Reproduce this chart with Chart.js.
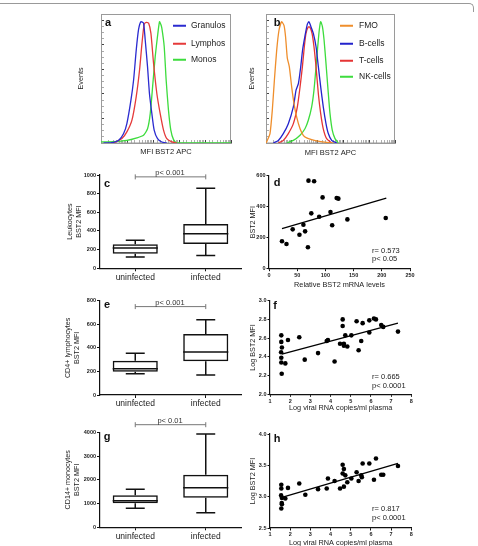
<!DOCTYPE html>
<html>
<head>
<meta charset="utf-8">
<script src="https://cdn.jsdelivr.net/npm/chart.js@4.4.0/dist/chart.umd.min.js"></script>
<style>
  html, body { margin: 0; padding: 0; background: #fff; overflow: hidden; }
  body { width: 478px; height: 546px; position: relative; font-family: "Liberation Sans", Arial, sans-serif; color: #222; }
  canvas { position: absolute; }
  .t { position: absolute; white-space: nowrap; line-height: 1; }
  .lab { font-weight: bold; font-size: 11px; transform: translate(-50%, -50%); color: #111; }
  .note { font-size: 7.5px; transform: translateY(-50%); }
  .pv { font-size: 7.5px; transform: translate(-50%, -50%); color: #333; }
  .leg { font-size: 8.5px; transform: translateY(-50%); }
  .leg i { display: inline-block; width: 13px; height: 2px; margin-right: 5px; vertical-align: middle; }
  #edge { position: absolute; left: -6px; top: 3px; width: 479px; height: 8px; border-top: 1px solid #999; border-right: 1px solid #999; border-top-right-radius: 5px; }
</style>
</head>
<body>
<div id="edge"></div>

<canvas id="histA"></canvas>
<canvas id="histB"></canvas>
<canvas id="boxC"></canvas>
<canvas id="scatD"></canvas>
<canvas id="boxE"></canvas>
<canvas id="scatF"></canvas>
<canvas id="boxG"></canvas>
<canvas id="scatH"></canvas>

<div class="t lab" style="left:108px;top:22px">a</div>
<div class="t lab" style="left:277px;top:22px">b</div>
<div class="t lab" style="left:107px;top:183px">c</div>
<div class="t lab" style="left:277px;top:182px">d</div>
<div class="t lab" style="left:107px;top:304px">e</div>
<div class="t lab" style="left:275px;top:305px">f</div>
<div class="t lab" style="left:107px;top:436px">g</div>
<div class="t lab" style="left:277px;top:438px">h</div>

<div class="t leg" style="left:173px;top:25px"><i style="background:#2b2bd0"></i>Granulos</div>
<div class="t leg" style="left:173px;top:43px"><i style="background:#e53a3a"></i>Lymphos</div>
<div class="t leg" style="left:173px;top:59px"><i style="background:#3ddc3d"></i>Monos</div>

<div class="t leg" style="left:340px;top:25px"><i style="background:#ef8e2c;margin-right:6px"></i>FMO</div>
<div class="t leg" style="left:340px;top:43px"><i style="background:#2323cc;margin-right:6px"></i>B-cells</div>
<div class="t leg" style="left:340px;top:60px"><i style="background:#e53434;margin-right:6px"></i>T-cells</div>
<div class="t leg" style="left:340px;top:76px"><i style="background:#3ddc3d;margin-right:6px"></i>NK-cells</div>

<div class="t pv" style="left:170px;top:173px">p&lt; 0.001</div>
<div class="t pv" style="left:170px;top:303px">p&lt; 0.001</div>
<div class="t pv" style="left:170px;top:421px">p&lt; 0.01</div>

<div class="t note" style="left:372px;top:251px">r= 0.573</div>
<div class="t note" style="left:372px;top:259px">p&lt; 0.05</div>
<div class="t note" style="left:372px;top:377px">r= 0.665</div>
<div class="t note" style="left:372px;top:386px">p&lt; 0.0001</div>
<div class="t note" style="left:372px;top:509px">r= 0.817</div>
<div class="t note" style="left:372px;top:518px">p&lt; 0.0001</div>

<script>
// --- histograms (a, b): x = position across the MFI axis (0-100), y = % of max events
const granX = [2, 7.2, 13.6, 17.4, 19.9, 23, 25.1, 27.1, 28.9, 30.7, 32.7, 34, 35.8, 37.3, 39.1, 40.9, 43.5, 46.8, 50.6];
const granY = [0, 0, 2.1, 7.3, 15, 33, 49, 72, 88, 94, 93, 80, 59, 38, 23, 10, 3.4, 0.8, 0];
const lymX = [9.7, 16.1, 19.9, 23.8, 27.1, 29.7, 31.5, 33.2, 34.8, 36.6, 38.4, 40.4, 43, 45.5, 48.1, 50.6, 54.5, 58.3];
const lymY = [0, 3.4, 8.6, 17.7, 36, 57, 77, 92, 93.5, 93, 85, 62, 38, 23, 10, 3.4, 0.8, 0];
const monoX = [0, 9.7, 19.9, 27.6, 32.7, 35.8, 37.9, 39.9, 41.7, 43.5, 45, 46, 46.8, 48.6, 50.1, 51.9, 53.7, 55.8, 58.3, 100];
const monoY = [0.8, 1, 2, 4, 6, 11, 23, 46, 67, 83, 94, 92, 89, 75, 49, 25.5, 10, 2.6, 0, 0];

const fmoX = [0, 1, 3.1, 4.9, 6.5, 8.3, 10.1, 12.1, 14, 15.2, 16.5, 18.1, 19.9, 21.7, 23.8, 26.4, 28.9, 31.5, 35.4, 39.3, 47, 52.2];
const fmoY = [0, 2, 7.3, 25.6, 48.7, 72, 87.6, 94, 91, 82, 66, 59, 43.5, 30.6, 20, 11, 6, 4, 2.6, 1.6, 0.5, 0];
const bcellX = [5.7, 9.6, 13.4, 17.3, 21.2, 23.3, 25.1, 26.9, 28.4, 30.2, 32, 33.3, 34.9, 36.7, 38.8, 40.6, 42.4, 44.4, 46.5, 48.3, 50.9, 54.8];
const bcellY = [0, 2, 7.3, 15, 28, 41, 46, 59, 72.5, 82.9, 92, 94, 90, 85, 74.6, 59, 43.5, 28, 15, 7.3, 2, 0];
const tcellX = [9.6, 13.4, 17.3, 21.2, 24.3, 26.4, 28.2, 29.7, 31, 32.8, 34.1, 35.7, 37.2, 38.8, 40.6, 42.4, 44.4, 47, 50.9];
const tcellY = [0, 2, 7.3, 15, 28, 43.5, 59, 74.6, 85, 90, 89.6, 85, 74.6, 59, 38, 22.8, 11, 3.4, 0];
const nkX = [16, 21.2, 26.4, 30.2, 32.8, 35.4, 37.2, 38.8, 40.1, 41.3, 42.4, 43.7, 45, 46.5, 48.1, 49.6, 51.4, 53.5, 56];
const nkY = [0, 2, 6, 11, 17.6, 28, 41, 59, 74.6, 87.6, 94, 90.4, 80, 61.7, 41, 23, 9.8, 3.4, 0];

// --- box plots (c, e, g): [min, q1, median, q3, max]
const groups = ['uninfected', 'infected'];
const leukoStats = [[121, 156, 218, 257, 301], [136, 261, 369, 476, 857]];
const cd4Stats = [[181, 198, 223, 291, 354], [170, 286, 365, 517, 639]];
const cd14Stats = [[800, 1011, 1120, 1347, 1600], [615, 1246, 1667, 2215, 3928]];

// --- correlations (d, f, h)
const mrnaLevel = [23, 31, 42, 54, 61, 64, 69, 70, 75, 80, 89, 95, 109, 112, 120, 123, 139, 207];
const leukoMfi = [177, 159, 254, 219, 284, 241, 138, 568, 357, 564, 335, 460, 366, 280, 456, 452, 318, 327];
const mrnaFitX = [23, 208];
const mrnaFitY = [258, 456];

const viralF = [1.56, 1.56, 1.59, 1.55, 1.56, 1.56, 1.58, 1.76, 1.89, 2.45, 2.72, 3.38, 3.81, 3.87, 4.2, 4.47, 4.6, 4.6, 4.66, 4.66, 4.73, 4.83, 5.03, 5.29, 5.39, 5.52, 5.59, 5.92, 5.92, 6.15, 6.25, 6.51, 6.61, 7.34];
const cd4LogMfi = [2.63, 2.56, 2.5, 2.45, 2.39, 2.34, 2.22, 2.33, 2.58, 2.61, 2.37, 2.44, 2.57, 2.58, 2.35, 2.54, 2.8, 2.73, 2.54, 2.52, 2.63, 2.51, 2.63, 2.78, 2.47, 2.57, 2.76, 2.79, 2.66, 2.81, 2.8, 2.74, 2.72, 2.67];
const cd4FitX = [1.59, 7.34];
const cd4FitY = [2.43, 2.76];

const viralH = [1.56, 1.56, 1.55, 1.59, 1.58, 1.59, 1.56, 1.76, 1.89, 2.45, 2.75, 3.38, 3.81, 3.87, 4.2, 4.47, 4.6, 4.6, 4.66, 4.66, 4.73, 4.83, 5.03, 5.29, 5.39, 5.52, 5.55, 5.59, 5.92, 6.15, 6.25, 6.51, 6.61, 7.34];
const cd14LogMfi = [3.19, 3.13, 3.02, 2.98, 2.9, 2.88, 2.81, 2.97, 3.14, 3.21, 3.03, 3.12, 3.13, 3.29, 3.25, 3.13, 3.51, 3.37, 3.44, 3.16, 3.34, 3.23, 3.29, 3.39, 3.25, 3.34, 3.31, 3.53, 3.53, 3.27, 3.61, 3.35, 3.35, 3.49];
const cd14FitX = [1.59, 7.34];
const cd14FitY = [2.99, 3.53];

Chart.defaults.font.family = '"Liberation Sans", Arial, sans-serif';
Chart.defaults.color = '#222';
Chart.defaults.animation = false;
Chart.defaults.plugins.legend.display = false;
Chart.defaults.plugins.tooltip.enabled = false;

const tickFont = { size: 5.5, weight: 'bold' };

// place a canvas so its plot area lands on [left, top, right, bottom]
function layout(id, area, lw, pr, bottom) {
  const cv = document.getElementById(id);
  const left = area[0] - lw;
  const top = Math.floor(area[1]) - 10;
  const width = Math.round(area[2] + pr - left);
  const height = Math.round(bottom - top);
  cv.width = width;
  cv.height = height;
  cv.style.left = left + 'px';
  cv.style.top = top + 'px';
  return {
    cv, left, lw, bottom: top + height, xh: top + height - area[3],
    padding: { top: area[1] - top, right: width - (area[2] - left), left: 0, bottom: 0 }
  };
}

function yTitle(L, text, size, cx) {
  return { display: true, text, font: { size }, color: '#222', padding: { top: cx - L.left - size * 0.6, bottom: 0 } };
}
function xTitle(L, text, size, cy) {
  return { display: true, text, font: { size }, color: '#222', padding: { top: 0, bottom: L.bottom - cy - size * 0.6 } };
}

const frame = {
  id: 'frame',
  beforeDatasetsDraw(chart) {
    const a = chart.chartArea, ctx = chart.ctx;
    ctx.save();
    ctx.strokeStyle = '#9a9a9a';
    ctx.lineWidth = 1;
    ctx.strokeRect(a.left + 0.5, a.top + 0.5, a.right - a.left - 1, a.bottom - a.top - 0.5);
    ctx.restore();
  }
};

function seg(ctx, x1, y1, x2, y2) {
  ctx.moveTo(x1, y1);
  ctx.lineTo(x2, y2);
}

function whiskers(stats, bracketAt) {
  return {
    id: 'whiskers',
    afterDatasetsDraw(chart) {
      const ctx = chart.ctx, y = chart.scales.y, x = chart.scales.x;
      const bars = chart.getDatasetMeta(0).data;
      ctx.save();
      ctx.strokeStyle = '#111';
      ctx.lineWidth = 1.5;
      ctx.beginPath();
      bars.forEach((b, i) => {
        const [lo, q1, med, q3, hi] = stats[i];
        const w = b.width / 2, cap = b.width * 0.21;
        seg(ctx, b.x - w, y.getPixelForValue(med), b.x + w, y.getPixelForValue(med));
        seg(ctx, b.x, y.getPixelForValue(q3), b.x, y.getPixelForValue(hi));
        seg(ctx, b.x, y.getPixelForValue(q1), b.x, y.getPixelForValue(lo));
        seg(ctx, b.x - cap, y.getPixelForValue(hi), b.x + cap, y.getPixelForValue(hi));
        seg(ctx, b.x - cap, y.getPixelForValue(lo), b.x + cap, y.getPixelForValue(lo));
      });
      ctx.stroke();
      // significance bracket
      const by = y.getPixelForValue(bracketAt);
      const x0 = x.getPixelForValue(0), x1 = x.getPixelForValue(1);
      ctx.strokeStyle = '#777';
      ctx.lineWidth = 1;
      ctx.beginPath();
      seg(ctx, x0, by, x1, by);
      seg(ctx, x0, by - 2.5, x0, by + 2.5);
      seg(ctx, x1, by - 2.5, x1, by + 2.5);
      ctx.stroke();
      ctx.restore();
    }
  };
}

function histChart(L, sets, yTitleX, xTitleY) {
  return new Chart(L.cv, {
    type: 'line',
    data: {
      datasets: sets.map(s => ({
        data: s.xs.map((v, i) => ({ x: v, y: s.ys[i] })),
        borderColor: s.color,
        borderWidth: 1.3,
        pointRadius: 0,
        tension: 0.2,
        fill: false
      }))
    },
    options: {
      responsive: false,
      layout: { padding: L.padding },
      scales: {
        x: { type: 'linear', display: false, min: 0, max: 100 },
        y: { type: 'linear', display: false, min: 0, max: 100 },
        xt: {
          axis: 'x', type: 'logarithmic', position: 'bottom', min: 1, max: 100000,
          ticks: { display: false },
          grid: {
            drawOnChartArea: false, tickLength: -3,
            tickColor: c => (c.tick && c.tick.major ? '#444' : '#b0b0b0')
          },
          border: { color: '#9a9a9a' },
          title: xTitle(L, 'MFI BST2 APC', 7.5, xTitleY),
          afterFit: s => { s.height = L.xh; }
        },
        yt: {
          axis: 'y', type: 'linear', position: 'left', min: 0, max: 100,
          ticks: { display: false, stepSize: 4.75 },
          grid: {
            drawOnChartArea: false, tickLength: -3,
            tickColor: c => (c.index % 4 === 0 ? '#444' : '#aaa')
          },
          border: { color: '#9a9a9a' },
          title: yTitle(L, 'Events', 7.2, yTitleX),
          afterFit: s => { s.width = L.lw; }
        }
      }
    },
    plugins: [frame]
  });
}

function boxChart(L, stats, bracketAt, titleLines, titleX, yMax, yStep) {
  return new Chart(L.cv, {
    type: 'bar',
    data: {
      labels: groups,
      datasets: [{
        data: stats.map(s => [s[1], s[3]]),
        backgroundColor: 'rgba(255,255,255,0)',
        borderColor: '#111',
        borderWidth: 1.5,
        borderSkipped: false,
        barPercentage: 0.64,
        categoryPercentage: 1
      }]
    },
    options: {
      responsive: false,
      layout: { padding: L.padding },
      scales: {
        x: {
          offset: true,
          grid: { offset: false, drawOnChartArea: false, tickLength: 3, color: '#111' },
          border: { color: '#111', width: 1.2 },
          ticks: { font: { size: 8.5 }, padding: 1, color: '#222' },
          afterFit: s => { s.height = L.xh; }
        },
        y: {
          min: 0, max: yMax,
          ticks: { stepSize: yStep, font: tickFont, padding: 1, color: '#222', callback: v => String(v) },
          grid: { drawOnChartArea: false, tickLength: 3, color: '#111' },
          border: { color: '#111', width: 1.2 },
          title: yTitle(L, titleLines, 7.2, titleX),
          afterFit: s => { s.width = L.lw; }
        }
      }
    },
    plugins: [whiskers(stats, bracketAt)]
  });
}

function scatterChart(L, xs, ys, fitX, fitY, xOpt, yOpt) {
  return new Chart(L.cv, {
    type: 'scatter',
    data: {
      datasets: [
        {
          data: xs.map((v, i) => ({ x: v, y: ys[i] })),
          pointRadius: 2.3, backgroundColor: '#000', borderWidth: 0
        },
        {
          data: fitX.map((v, i) => ({ x: v, y: fitY[i] })),
          showLine: true, pointRadius: 0, borderColor: '#000', borderWidth: 1.3
        }
      ]
    },
    options: {
      responsive: false,
      layout: { padding: L.padding },
      scales: {
        x: {
          type: 'linear', min: xOpt.min, max: xOpt.max,
          ticks: { stepSize: xOpt.step, font: tickFont, padding: 1, color: '#222' },
          grid: { drawOnChartArea: false, tickLength: 2.5, color: '#111' },
          border: { color: '#111', width: 1.2 },
          title: xTitle(L, xOpt.title, 7.3, xOpt.titleY),
          afterFit: s => { s.height = L.xh; }
        },
        y: {
          type: 'linear', min: yOpt.min, max: yOpt.max,
          ticks: { stepSize: yOpt.step, font: tickFont, padding: 1, color: '#222',
            callback: v => v.toFixed(yOpt.digits) },
          grid: { drawOnChartArea: false, tickLength: 2.5, color: '#111' },
          border: { color: '#111', width: 1.2 },
          title: yTitle(L, yOpt.title, 7.2, 253.5),
          afterFit: s => { s.width = L.lw; }
        }
      }
    }
  });
}

// a, b
histChart(layout('histA', [101, 14, 231, 143], 41, 9, 158), [
  { xs: granX, ys: granY, color: '#2b2bd0' },
  { xs: lymX, ys: lymY, color: '#e53a3a' },
  { xs: monoX, ys: monoY, color: '#3ddc3d' }
], 81, 152);

histChart(layout('histB', [266, 14, 395, 143], 36, 15, 158), [
  { xs: fmoX, ys: fmoY, color: '#ef8e2c' },
  { xs: bcellX, ys: bcellY, color: '#2323cc' },
  { xs: tcellX, ys: tcellY, color: '#e53434' },
  { xs: nkX, ys: nkY, color: '#3ddc3d' }
], 252, 152.7);

// c, e, g
boxChart(layout('boxC', [100, 175, 241, 268.3], 45, 6, 285), leukoStats, 980, ['Leukocytes', 'BST2 MFI'], 70, 1000, 200);
boxChart(layout('boxE', [100, 300.7, 241, 395], 45, 6, 412), cd4Stats, 750, ['CD4+ lymphocytes', 'BST2 MFI'], 68.5, 800, 200);
boxChart(layout('boxG', [100, 432.3, 241, 527.3], 45, 6, 544), cd14Stats, 4320, ['CD14+ monocytes', 'BST2 MFI'], 68.5, 4000, 1000);

// d, f, h
scatterChart(layout('scatD', [269, 175.7, 410, 268.7], 26, 8, 290), mrnaLevel, leukoMfi, mrnaFitX, mrnaFitY,
  { min: 0, max: 250, step: 50, title: 'Relative BST2 mRNA levels', titleY: 285.3 },
  { min: 0, max: 600, step: 200, digits: 0, title: 'BST2 MFI' });
scatterChart(layout('scatF', [270, 300.7, 411.3, 394.3], 26, 8, 413), viralF, cd4LogMfi, cd4FitX, cd4FitY,
  { min: 1, max: 8, step: 1, title: 'Log viral RNA copies/ml plasma', titleY: 408 },
  { min: 2, max: 3, step: 0.2, digits: 1, title: 'Log BST2 MFI' });
scatterChart(layout('scatH', [270, 434, 411.3, 528], 26, 8, 550), viralH, cd14LogMfi, cd14FitX, cd14FitY,
  { min: 1, max: 8, step: 1, title: 'Log viral RNA copies/ml plasma', titleY: 543.3 },
  { min: 2.5, max: 4, step: 0.5, digits: 1, title: 'Log BST2 MFI' });
</script>
</body>
</html>
